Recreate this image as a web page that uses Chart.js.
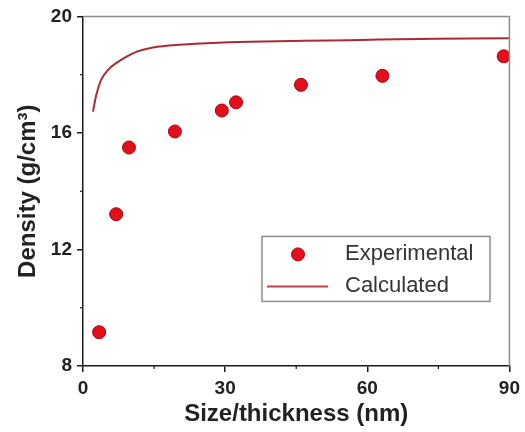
<!DOCTYPE html>
<html>
<head>
<meta charset="utf-8">
<script src="https://cdn.jsdelivr.net/npm/chart.js@4/dist/chart.umd.min.js"></script>
<style>
  html, body { margin: 0; padding: 0; background: #fff; }
  #wrap { width: 525px; height: 432px; }
</style>
</head>
<body>
<div id="wrap"><canvas id="c" width="525" height="432"></canvas></div>
<script>
// ---- data ----
const expSize    = [3.4, 7.0, 9.7, 19.4, 29.3, 32.3, 46.0, 63.2, 88.8];
const expDensity = [9.16, 13.21, 15.50, 16.05, 16.77, 17.05, 17.65, 17.96, 18.63];

const calcSize    = [2.1, 2.8, 3.8, 5.2, 7.3, 9.4, 11.5, 14.0, 18.2, 23.8, 30.8, 41.2, 51.7, 60.7, 89.3, 90];
const calcDensity = [16.73, 17.30, 17.81, 18.15, 18.43, 18.64, 18.80, 18.91, 19.00, 19.06, 19.11, 19.15, 19.17, 19.20, 19.25, 19.25];

const xTicks = [0, 30, 60, 90];
const yTicks = [8, 12, 16, 20];
const xMinor = [15, 45, 75];
const yMinor = [10, 14, 18];

const labels = { exp: 'Experimental', calc: 'Calculated',
                 x: 'Size/thickness (nm)', y: 'Density (g/cm\u00B3)' };

const FONT = '"Liberation Sans", Arial, Helvetica, sans-serif';
const AXIS = '#1a1a1a';

const minorTicks = {
  id: 'minorTicks',
  afterDraw(chart) {
    const ctx = chart.ctx, x = chart.scales.x, y = chart.scales.y;
    ctx.save();
    ctx.strokeStyle = AXIS; ctx.lineWidth = 1.2;
    xMinor.forEach(v => { const p = x.getPixelForValue(v);
      ctx.beginPath(); ctx.moveTo(p, x.top); ctx.lineTo(p, x.top + 3); ctx.stroke(); });
    yMinor.forEach(v => { const p = y.getPixelForValue(v);
      ctx.beginPath(); ctx.moveTo(y.right, p); ctx.lineTo(y.right - 3, p); ctx.stroke(); });
    // top and right frame (grey)
    const a = chart.chartArea;
    ctx.strokeStyle = '#8c8c8c'; ctx.lineWidth = 1.5;
    ctx.beginPath(); ctx.moveTo(a.left, a.top); ctx.lineTo(a.right, a.top); ctx.lineTo(a.right, a.bottom); ctx.stroke();
    ctx.restore();
  }
};

const boxLegend = {
  id: 'boxLegend',
  afterDraw(chart) {
    const ctx = chart.ctx, a = chart.chartArea;
    const bx = a.left + 179, by = a.top + 220, bw = 228, bh = 65;
    ctx.save();
    ctx.fillStyle = '#fff';
    ctx.fillRect(bx, by, bw, bh);
    ctx.strokeStyle = '#8c8c8c'; ctx.lineWidth = 1.5;
    ctx.strokeRect(bx, by, bw, bh);
    const ds = chart.data.datasets;
    ctx.beginPath();
    ctx.arc(bx + 36, by + 18, 6.5, 0, Math.PI * 2);
    ctx.fillStyle = ds[0].backgroundColor; ctx.fill();
    ctx.strokeStyle = ds[0].borderColor; ctx.lineWidth = 1; ctx.stroke();
    ctx.beginPath();
    ctx.moveTo(bx + 5, by + 50); ctx.lineTo(bx + 66, by + 50);
    ctx.strokeStyle = '#c0404a'; ctx.lineWidth = 2; ctx.stroke();
    ctx.fillStyle = '#333';
    ctx.font = '22px ' + FONT;
    ctx.textBaseline = 'middle'; ctx.textAlign = 'left';
    ctx.fillText(ds[0].label, bx + 83, by + 18);
    ctx.fillText(ds[1].label, bx + 83, by + 50);
    ctx.restore();
  }
};

new Chart(document.getElementById('c'), {
  type: 'scatter',
  data: {
    datasets: [
      {
        label: labels.exp,
        data: expSize.map((v, i) => ({ x: v, y: expDensity[i] })),
        backgroundColor: '#e3101b',
        borderColor: '#a80010',
        borderWidth: 1,
        pointRadius: 6.5,
        pointHoverRadius: 6.5,
        order: 1
      },
      {
        label: labels.calc,
        data: calcSize.map((v, i) => ({ x: v, y: calcDensity[i] })),
        showLine: true,
        borderColor: '#a82a34',
        borderWidth: 2,
        pointRadius: 0,
        cubicInterpolationMode: 'monotone',
        fill: false,
        order: 2
      }
    ]
  },
  options: {
    responsive: false,
    animation: false,
    events: [],
    layout: { padding: { top: 14, right: 12, left: 0, bottom: 0 } },
    plugins: { legend: { display: false }, tooltip: { enabled: false } },
    scales: {
      x: {
        type: 'linear', min: 0, max: 90,
        afterFit(s) { s.height = 66; },
        afterBuildTicks(s) { s.ticks = xTicks.map(v => ({ value: v })); },
        ticks: { color: '#222', padding: 5, font: { family: FONT, size: 19, weight: 'bold' } },
        grid: { display: true, drawOnChartArea: false, drawTicks: true, tickLength: 6, color: AXIS, lineWidth: 1.5 },
        border: { display: true, color: AXIS, width: 1.5 },
        title: { display: true, text: labels.x, color: '#222', padding: { top: 0, bottom: 3 },
                 font: { family: FONT, size: 24, weight: 'bold' } }
      },
      y: {
        type: 'linear', min: 8, max: 20,
        afterFit(s) { s.width = 83; },
        afterBuildTicks(s) { s.ticks = yTicks.map(v => ({ value: v })); },
        ticks: { color: '#222', padding: 5, font: { family: FONT, size: 19, weight: 'bold' } },
        grid: { display: true, drawOnChartArea: false, drawTicks: true, tickLength: 6, color: AXIS, lineWidth: 1.5 },
        border: { display: true, color: AXIS, width: 1.5 },
        title: { display: true, text: labels.y, color: '#222', padding: { top: 14, bottom: 0 },
                 font: { family: FONT, size: 24, weight: 'bold' } }
      }
    }
  },
  plugins: [minorTicks, boxLegend]
});
</script>
</body>
</html>
